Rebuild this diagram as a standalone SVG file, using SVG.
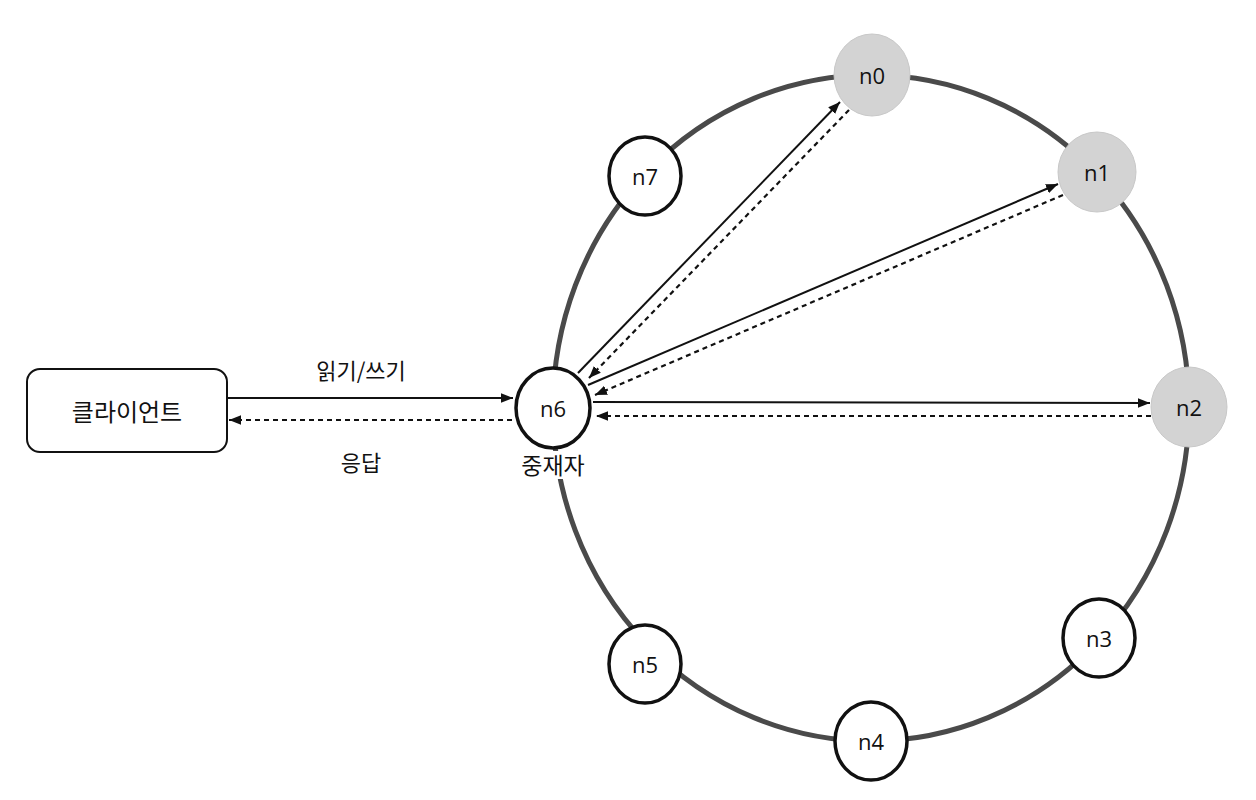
<svg xmlns="http://www.w3.org/2000/svg" width="1256" height="800" viewBox="0 0 1256 800">
<defs>
<marker id="ah2" viewBox="0 0 10 10" refX="10" refY="5" markerWidth="12" markerHeight="12" markerUnits="userSpaceOnUse" orient="auto"><path d="M0,1 L10,5 L0,9 z" fill="#111"/></marker>
</defs>
<style>
.ring{fill:none;stroke:#4a4a4a;stroke-width:5}
.node{fill:#fff;stroke:#111;stroke-width:3.5}
.hot{fill:#d3d3d3;stroke:#c8c8c8;stroke-width:1}
.lbl{font-family:"Open Sans","Noto Sans",sans-serif;font-size:22px;fill:#111;text-anchor:middle;dominant-baseline:central}
.kr{font-family:"Noto Sans CJK KR","Noto Sans",sans-serif;font-size:22px;fill:#111;text-anchor:middle;dominant-baseline:central}
.solid{stroke:#111;stroke-width:2;fill:none}
.dash{stroke:#111;stroke-width:2.2;fill:none;stroke-dasharray:5 4}
</style>
<rect width="1256" height="800" fill="#fff"/>
<ellipse class="ring" cx="871" cy="408" rx="318" ry="333"/>
<g id="connectors">
<line class="solid" x1="227" y1="398" x2="513" y2="398" marker-end="url(#ah2)"/>
<line class="dash" x1="512" y1="420" x2="229" y2="420" marker-end="url(#ah2)"/>
<line class="solid" x1="578" y1="373" x2="840" y2="102" marker-end="url(#ah2)"/>
<line class="dash" x1="849" y1="110" x2="589" y2="378" marker-end="url(#ah2)"/>
<line class="solid" x1="588" y1="385" x2="1058" y2="184" marker-end="url(#ah2)"/>
<line class="dash" x1="1063" y1="195" x2="595" y2="395" marker-end="url(#ah2)"/>
<line class="solid" x1="593" y1="402" x2="1150" y2="403" marker-end="url(#ah2)"/>
<line class="dash" x1="1151" y1="416" x2="596" y2="416" marker-end="url(#ah2)"/>
<text class="kr" x="361" y="369">읽기/쓰기</text>
<text class="kr" x="361" y="461">응답</text>
</g>
<g id="client">
<rect x="27" y="369" width="200" height="83" rx="13" fill="#fff" stroke="#111" stroke-width="2"/>
<text class="kr" x="127" y="410" style="font-size:24px">클라이언트</text>
</g>
<g id="n0"><ellipse class="hot" cx="872" cy="75" rx="38" ry="41"/><text class="lbl" x="872" y="75">n0</text></g>
<g id="n1"><ellipse class="hot" cx="1097" cy="172" rx="39" ry="40"/><text class="lbl" x="1097" y="172">n1</text></g>
<g id="n2"><ellipse class="hot" cx="1189" cy="407" rx="38" ry="40"/><text class="lbl" x="1189" y="407">n2</text></g>
<g id="n3"><ellipse class="node" cx="1099" cy="638" rx="36" ry="39"/><text class="lbl" x="1099" y="638">n3</text></g>
<g id="n4"><ellipse class="node" cx="871" cy="741" rx="36" ry="39"/><text class="lbl" x="871" y="741">n4</text></g>
<g id="n5"><ellipse class="node" cx="645" cy="664" rx="36" ry="39"/><text class="lbl" x="645" y="664">n5</text></g>
<g id="n6"><ellipse class="node" cx="553" cy="408" rx="37" ry="40"/><text class="lbl" x="553" y="408">n6</text>
<rect x="505" y="451" width="96" height="28" fill="#fff"/><text class="kr" x="553" y="464" style="font-size:23px">중재자</text></g>
<g id="n7"><ellipse class="node" cx="645" cy="176" rx="36" ry="39"/><text class="lbl" x="645" y="176">n7</text></g>
</svg>
